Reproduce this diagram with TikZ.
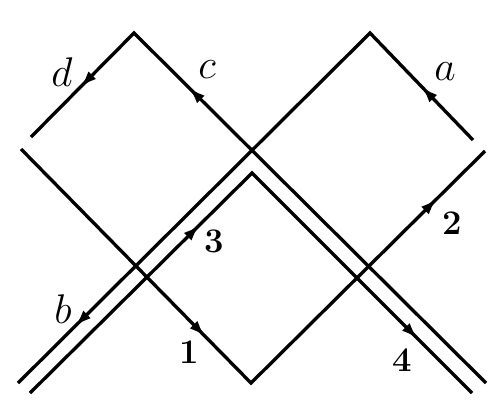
\documentclass[tikz,border=0pt]{standalone}
\usepackage{amsmath}
\usetikzlibrary{arrows.meta,decorations.markings}

\begin{document}
\begin{tikzpicture}[x = .6pt, y = -.6pt, line width = 2pt,
  arr/.style = {postaction = {decorate, decoration = {markings,
    mark = at position #1 with {\arrow{Latex[length = 10pt, width = 6.5pt]}}}}}]
\useasboundingbox (0,0) rectangle (500,413);
\begin{scope}
\coordinate (tl) at (134,33);
\coordinate (tr) at (370,33);
\coordinate (de) at (31,137);
\coordinate (ae) at (473,140);
\coordinate (be) at (18,383);
\coordinate (ce) at (486,383);
\coordinate (vl) at (21,149);
\coordinate (vb) at (251,383);
\coordinate (vr) at (485,151);
\coordinate (ih) at (252,173);
\coordinate (il) at (30,393);
\coordinate (ir) at (472,393);
\draw[arr = .652, arr = .891] (ce) -- (tl) -- (de);
\draw[arr = .115, arr = .875] (ae) -- (tr) -- (be);
\draw[arr = .40, arr = .897] (vl) -- (vb) -- (vr);
\draw[arr = .383, arr = .877] (il) -- (ih) -- (ir);
\node (d) at (62,72) {\Huge $d$};
\node (c) at (207,70) {\Huge $c$};
\node (a) at (445,72) {\Huge $a$};
\node (b) at (63,309) {\Huge $b$};
\node (n3) at (214,241) {\huge\bfseries 3};
\node (n1) at (189,352) {\huge\bfseries 1};
\node (n2) at (452,223) {\huge\bfseries 2};
\node (n4) at (402,360) {\huge\bfseries 4};
\end{scope}
\end{tikzpicture}
\end{document}
